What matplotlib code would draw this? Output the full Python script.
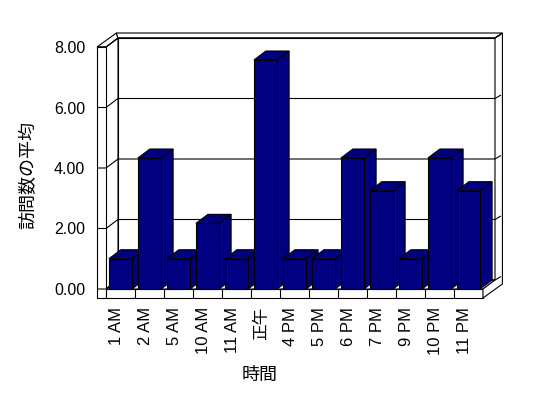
import numpy as np
import matplotlib.pyplot as plt
import matplotlib.transforms as mtransforms
from matplotlib.patches import Polygon

plt.rcParams['font.family'] = ['Liberation Sans', 'Noto Sans CJK JP']

hours = ['1 AM', '2 AM', '5 AM', '10 AM', '11 AM', '正午', '4 PM',
         '5 PM', '6 PM', '7 PM', '9 PM', '10 PM', '11 PM']
visits = [1.0, 4.33, 1.0, 2.17, 1.0, 7.57, 1.0, 1.0, 4.33, 3.25, 1.0, 4.33, 3.25]
yticks = [0, 2, 4, 6, 8]

navy = '#000080'
lw = 0.8

# oblique depth offsets, in data units (1 category = 29 px, 1 unit = 30.25 px)
DX, DY = 12 / 29, 9 / 30.25       # front plane -> back wall plane
DX2, DY2 = 19.4 / 29, 14 / 30.25  # front plane -> back of the wall slab
W = 9 / 29                        # left wall thickness
FT = 9 / 30.25                    # floor thickness

fig = plt.figure(figsize=(5.48, 3.98), dpi=100)
ax = fig.add_axes([106 / 548, 109 / 398, 377 / 548, 242 / 398])
x0, x1 = -0.5, len(hours) - 0.5
top = yticks[-1]
ax.set_xlim(x0, x1)
ax.set_ylim(0, top)
for s in ax.spines.values():
    s.set_visible(False)
ax.patch.set_visible(False)


def poly(pts, z, fc='white'):
    ax.add_patch(Polygon(pts, closed=True, fc=fc, ec='black', lw=lw,
                         clip_on=False, zorder=z))


def line(xs, ys, z=2):
    ax.plot(xs, ys, color='black', lw=lw, clip_on=False, zorder=z,
            solid_capstyle='butt')


# walls and floor
poly([(x0 + DX, DY), (x1 + DX, DY), (x1 + DX, top + DY), (x0 + DX, top + DY)], 1)
poly([(x0, 0), (x0 + DX, DY), (x0 + DX, top + DY), (x0, top)], 1)
poly([(x0, 0), (x1, 0), (x1 + DX, DY), (x0 + DX, DY)], 1)
poly([(x0 - W, -FT), (x0, -FT), (x0, top), (x0 - W, top)], 1)
poly([(x0 - W, top), (x0, top), (x0 + DX, top + DY), (x0 - W + DX2, top + DY2)], 1)
poly([(x0 + DX, top + DY), (x1 + DX, top + DY), (x1 + DX2, top + DY2),
      (x0 - W + DX2, top + DY2)], 1)
poly([(x0, -FT), (x1, -FT), (x1, 0), (x0, 0)], 1)
poly([(x1, 0), (x1 + DX, DY), (x1 + DX, top + DY), (x1 + DX2, top + DY2),
      (x1 + DX2, -FT + DY2), (x1, -FT)], 1)

# gridlines across the left wall and the back wall
for v in yticks:
    line([x0 - W, x0, x0 + DX, x1 + DX, x1 + DX2 - 0.05],
         [v, v, v + DY, v + DY, v + DY2 - 0.05])

# category ticks on the floor front
for i in range(len(hours) - 1):
    line([i + 0.5, i + 0.5], [-FT, 0])

# bars
xs = np.arange(len(hours))
bw = 0.8
bars = ax.bar(xs, visits, width=bw, color=navy, edgecolor='black', lw=lw)
for i, (b, h) in enumerate(zip(bars, visits)):
    xl, xr = xs[i] - bw / 2, xs[i] + bw / 2
    b.set_zorder(4 + 2 * i)
    b.set_clip_on(False)
    poly([(xr, 0), (xr + DX, DY), (xr + DX, h + DY), (xr, h)], 3 + 2 * i, navy)
    poly([(xl, h), (xr, h), (xr + DX, h + DY), (xl + DX, h + DY)], 3 + 2 * i, navy)

ax.set_xticks(xs, hours, rotation=90, fontsize=12)
ax.set_yticks(yticks, [f'{v:.2f}' for v in yticks], fontsize=11.5)
ax.tick_params(axis='x', length=0, pad=13)
ax.tick_params(axis='y', length=0, pad=15)
shift = mtransforms.ScaledTranslation(-4 / 100, 0, fig.dpi_scale_trans)
for lbl in ax.get_xticklabels():
    lbl.set_transform(lbl.get_transform() + shift)

fig.text(260 / 548, 1 - 375 / 398, '時間', ha='center', va='center', fontsize=13)
fig.text(29 / 548, 1 - 175 / 398, '訪問数の平均', ha='center', va='center',
         rotation=90, fontsize=13)

fig.savefig('out.png', dpi=100)
